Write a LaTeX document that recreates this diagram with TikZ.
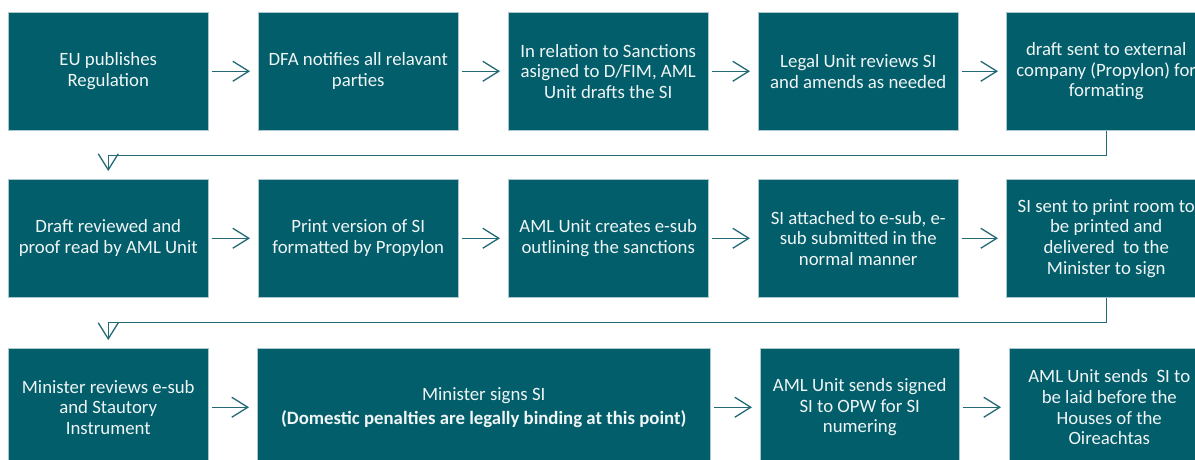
\documentclass[tikz,border=0pt]{standalone}
\usepackage{fontspec}
\setmainfont{Carlito}
\usetikzlibrary{arrows.meta}
\definecolor{boxteal}{RGB}{2,94,106}
\definecolor{lineteal}{RGB}{35,105,118}
\definecolor{boxedge}{RGB}{170,200,206}
\definecolor{boxtext}{RGB}{240,245,246}
\tikzset{
  stepbox/.style={fill=boxteal, draw=boxedge, line width=0.5pt, text=boxtext,
    align=center, anchor=north west, minimum height=118pt, minimum width=200pt,
    inner sep=0pt, font=\fontsize{18.8}{20.7}\selectfont},
  flow/.style={draw=lineteal, line width=1.3pt,
    -{Straight Barb[length=16pt,width=20pt,line width=1.3pt]}},
  hflow/.style={flow, shorten <=3pt, shorten >=8pt},
}
\begin{document}
\begin{tikzpicture}[x=1pt,y=-1pt]
  \clip (0,0) rectangle (1195,459);
  \fill[white] (0,0) rectangle (1195,459);

  % first row
  \node[stepbox] (a1) at (8,12)    {EU publishes\\Regulation};
  \node[stepbox] (a2) at (258,12)  {DFA notifies all relavant\\parties};
  \node[stepbox] (a3) at (508,12)  {In relation to Sanctions\\asigned to D/FIM, AML\\Unit drafts the SI};
  \node[stepbox] (a4) at (758,12)  {Legal Unit reviews SI\\and amends as needed};
  \node[stepbox] (a5) at (1006,12) {draft sent to external\\company (Propylon) for\\formating};

  % second row
  \node[stepbox] (b1) at (8,179)    {Draft reviewed and\\proof read by AML Unit};
  \node[stepbox] (b2) at (258,179)  {Print version of SI\\formatted by Propylon};
  \node[stepbox] (b3) at (508,179)  {AML Unit creates e-sub\\outlining the sanctions};
  \node[stepbox] (b4) at (758,179)  {SI attached to e-sub, e-\\sub submitted in the\\normal manner};
  \node[stepbox] (b5) at (1006,179) {SI sent to print room to\\be printed and\\delivered\ \ to the\\Minister to sign};

  % third row
  \node[stepbox] (c1) at (8,348) {Minister reviews e-sub\\and Stautory\\Instrument};
  \node[stepbox, minimum width=453pt] (c2) at (257,348)
    {Minister signs SI\\[3.5pt]\textbf{(Domestic penalties are legally binding at this point)}};
  \node[stepbox, minimum width=199pt] (c3) at (760,348) {AML Unit sends signed\\SI to OPW for SI\\numering};
  \node[stepbox] (c4) at (1009,348) {AML Unit sends\ \ SI to\\be laid before the\\Houses of the\\Oireachtas};

  % arrows within rows
  \draw[hflow] (a1) -- (a2);
  \draw[hflow] (a2) -- (a3);
  \draw[hflow] (a3) -- (a4);
  \draw[hflow] (a4) -- (a5);
  \draw[hflow] (b1) -- (b2);
  \draw[hflow] (b2) -- (b3);
  \draw[hflow] (b3) -- (b4);
  \draw[hflow] (b4) -- (b5);
  \draw[hflow] (c1) -- (c2);
  \draw[hflow] (c2) -- (c3);
  \draw[hflow] (c3) -- (c4);

  % row-to-row elbow connectors
  \draw[flow] (a5.south) -- ++(0,25) -| ([yshift=8pt]b1.north);
  \draw[flow] (b5.south) -- ++(0,25) -| ([yshift=8pt]c1.north);
\end{tikzpicture}
\end{document}
